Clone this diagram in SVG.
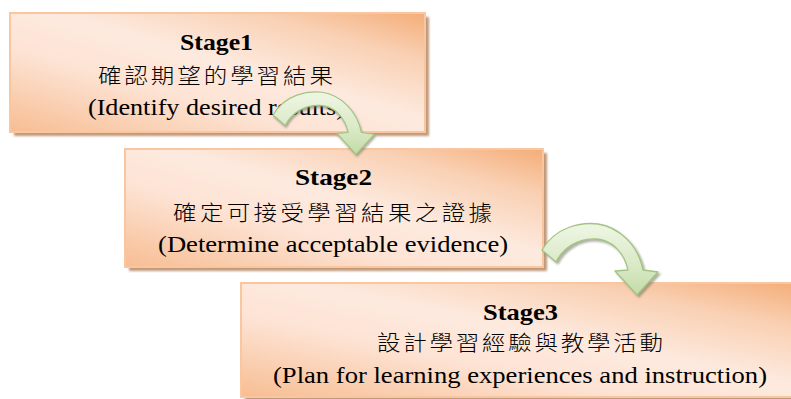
<svg xmlns="http://www.w3.org/2000/svg" width="791" height="399" viewBox="0 0 791 399">
<defs>
<linearGradient id="boxFill" x1="0" y1="1" x2="1" y2="0">
<stop offset="0" stop-color="#f7bd92"/>
<stop offset="0.35" stop-color="#fde3d4"/>
<stop offset="0.55" stop-color="#fdeadf"/>
<stop offset="0.8" stop-color="#f9d0b3"/>
<stop offset="1" stop-color="#f4ad78"/>
</linearGradient>
<linearGradient id="arrowFill" x1="0" y1="0" x2="0" y2="1">
<stop offset="0" stop-color="#eef6e4"/>
<stop offset="0.6" stop-color="#d9e9c6"/>
<stop offset="1" stop-color="#c3dba6"/>
</linearGradient>
<filter id="boxShadow" x="-5%" y="-5%" width="110%" height="115%">
<feGaussianBlur stdDeviation="1"/>
</filter>
<filter id="arrowShadow" x="-20%" y="-20%" width="140%" height="140%">
<feGaussianBlur in="SourceAlpha" stdDeviation="1.2"/>
<feOffset dx="1.5" dy="2" result="b"/>
<feFlood flood-color="#6d6d5a" flood-opacity="0.55"/>
<feComposite in2="b" operator="in"/>
<feMerge><feMergeNode/><feMergeNode in="SourceGraphic"/></feMerge>
</filter>
<path id="curvedArrow" d="M 0 0 C 14 -24 40 -28 56 -26 C 76 -23 96 -6 101 20 L 116 22 L 95 45 L 73 21 L 86 20 C 82 2 70 -10 54 -11 C 36 -12 21 -2 14 12 Z"/>
</defs>
<style>
.shadow{fill:#b98e6c;opacity:0.9}
.box{fill:url(#boxFill);stroke:#f9c6a0;stroke-width:2}
.title{font-family:'Times New Roman','Liberation Serif',serif;font-weight:bold;font-size:23px;fill:#000}
.en{font-family:'Times New Roman','Liberation Serif',serif;font-size:23px;fill:#000}
.zh{font-family:'Noto Sans CJK TC','Noto Sans CJK SC',sans-serif;font-weight:300;font-size:21px;fill:#000}
.arrow{fill:url(#arrowFill);stroke:#a3c381;stroke-width:1.3;stroke-linejoin:round}
</style>
<g id="stage1">
<rect class="shadow" x="14" y="17" width="415" height="119" filter="url(#boxShadow)"/>
<rect class="box" x="10" y="13" width="415" height="119"/>
<g transform="scale(1.2 1)">
<text class="title" x="150" y="50.5" textLength="60.8" lengthAdjust="spacingAndGlyphs">Stage1</text>
<text class="en" x="73.3" y="115" textLength="214.2" lengthAdjust="spacingAndGlyphs">(Identify desired results)</text>
</g>
<g transform="scale(1.12 1)">
<text class="zh" x="87.5" y="83.5" textLength="209.8" lengthAdjust="spacing">確認期望的學習結果</text>
</g>
</g>
<g id="stage2">
<rect class="shadow" x="129" y="153" width="418" height="118" filter="url(#boxShadow)"/>
<rect class="box" x="125" y="149" width="418" height="118"/>
<g transform="scale(1.2 1)">
<text class="title" x="245.8" y="185" textLength="64.2" lengthAdjust="spacingAndGlyphs">Stage2</text>
<text class="en" x="131.7" y="252" textLength="291.7" lengthAdjust="spacingAndGlyphs">(Determine acceptable evidence)</text>
</g>
<g transform="scale(1.12 1)">
<text class="zh" x="154.5" y="220.5" textLength="284.8" lengthAdjust="spacing">確定可接受學習結果之證據</text>
</g>
</g>
<g id="stage3">
<rect class="shadow" x="245" y="287" width="558" height="114" filter="url(#boxShadow)"/>
<rect class="box" x="241" y="283" width="558" height="114"/>
<g transform="scale(1.2 1)">
<text class="title" x="402.5" y="320" textLength="62.5" lengthAdjust="spacingAndGlyphs">Stage3</text>
<text class="en" x="227.5" y="383" textLength="411.7" lengthAdjust="spacingAndGlyphs">(Plan for learning experiences and instruction)</text>
</g>
<g transform="scale(1.12 1)">
<text class="zh" x="336.6" y="350.5" textLength="255.4" lengthAdjust="spacing">設計學習經驗與教學活動</text>
</g>
</g>
<g id="connectors">
<use href="#curvedArrow" class="arrow" transform="translate(273 115) scale(0.875)" filter="url(#arrowShadow)"/>
<use href="#curvedArrow" class="arrow" transform="translate(542 250)" filter="url(#arrowShadow)"/>
</g>
</svg>
